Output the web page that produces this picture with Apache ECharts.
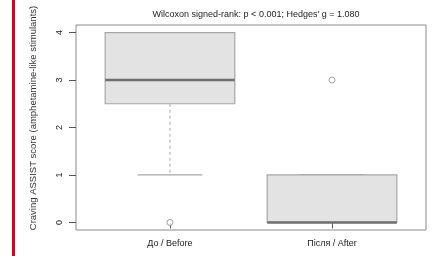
<!DOCTYPE html>
<html>
<head>
<meta charset="utf-8">
<script src="https://cdn.jsdelivr.net/npm/echarts@6/dist/echarts.min.js"></script>
<style>
  html, body { margin: 0; padding: 0; background: #fff; }
  #chart { width: 433px; height: 256px; }
</style>
</head>
<body>
<div id="chart"></div>
<script>
const categories = ["До / Before", "Після / After"];
const whiskerLow = [1, 0];
const q1 = [2.5, 0];
const median = [3, 0];
const q3 = [4, 1];
const whiskerHigh = [4, 1];
const outliers = [[1, 0], [2, 3]];
const yTicks = [0, 1, 2, 3, 4];
const title = "Wilcoxon signed-rank: p < 0.001; Hedges' g = 1.080";
const yName = "Craving ASSIST score (amphetamine-like stimulants)";

const font = "Liberation Sans, Arial, sans-serif";
const boxData = categories.map((c, i) => [i + 1, whiskerLow[i], q1[i], median[i], q3[i], whiskerHigh[i]]);

function renderBox(params, api) {
  const x = api.value(0);
  const half = api.size([0.8, 0])[0] / 2;
  const pLow = api.coord([x, api.value(1)]);
  const pQ1 = api.coord([x, api.value(2)]);
  const pMed = api.coord([x, api.value(3)]);
  const pQ3 = api.coord([x, api.value(4)]);
  const pHigh = api.coord([x, api.value(5)]);
  const cx = pMed[0];
  const grey = "#a6a6a6";
  const children = [];
  // whiskers
  children.push({ type: "line", shape: { x1: cx, y1: pQ1[1], x2: cx, y2: pLow[1] },
    style: { stroke: grey, lineWidth: 1, lineDash: [3, 3] } });
  children.push({ type: "line", shape: { x1: cx, y1: pQ3[1], x2: cx, y2: pHigh[1] },
    style: { stroke: grey, lineWidth: 1, lineDash: [3, 3] } });
  children.push({ type: "line", shape: { x1: cx - half / 2, y1: pLow[1], x2: cx + half / 2, y2: pLow[1] },
    style: { stroke: grey, lineWidth: 1.2 } });
  children.push({ type: "line", shape: { x1: cx - half / 2, y1: pHigh[1], x2: cx + half / 2, y2: pHigh[1] },
    style: { stroke: grey, lineWidth: 1.2 } });
  // box
  children.push({ type: "rect", shape: { x: cx - half, y: pQ3[1], width: half * 2, height: pQ1[1] - pQ3[1] },
    style: { fill: "#e3e3e3", stroke: grey, lineWidth: 1.2 } });
  // median
  children.push({ type: "line", shape: { x1: cx - half, y1: pMed[1], x2: cx + half, y2: pMed[1] },
    style: { stroke: "#6e6e6e", lineWidth: 2.5 } });
  return { type: "group", children: children };
}

const chart = echarts.init(document.getElementById("chart"));
chart.setOption({
  animation: false,
  backgroundColor: "#fff",
  textStyle: { fontFamily: font },
  title: {
    text: title,
    left: 251,
    textAlign: "center",
    top: 5,
    textStyle: { fontFamily: font, fontSize: 9, fontWeight: "normal", color: "#222" }
  },
  grid: { left: 76, right: 7, top: 25, bottom: 26, show: true, borderColor: "#8a8a8a", borderWidth: 1, backgroundColor: "transparent" },
  xAxis: {
    type: "value",
    min: 0.42,
    max: 2.58,
    splitLine: { show: false },
    axisLine: { show: false },
    axisTick: { show: true, length: 6, customValues: [1, 2], lineStyle: { color: "#555" } },
    axisLabel: {
      customValues: [1, 2],
      margin: 9,
      fontSize: 9,
      color: "#222",
      fontFamily: font,
      formatter: v => categories[Math.round(v) - 1]
    }
  },
  yAxis: {
    type: "value",
    min: -0.16,
    max: 4.16,
    splitLine: { show: false },
    axisLine: { show: false },
    axisTick: { show: true, length: 7, customValues: yTicks, lineStyle: { color: "#555" } },
    axisLabel: { customValues: yTicks, rotate: 90, margin: 12, fontSize: 9, color: "#222", fontFamily: font }
  },
  series: [
    {
      type: "custom",
      renderItem: renderBox,
      data: boxData,
      encode: { x: 0, y: [1, 2, 3, 4, 5] }
    },
    {
      type: "scatter",
      data: outliers,
      symbol: "circle",
      symbolSize: 6,
      z: 5,
      itemStyle: { color: "#fff", borderColor: "#888", borderWidth: 1 }
    }
  ],
  graphic: [
    { type: "rect", left: 12, top: 0, shape: { width: 3, height: 256 }, style: { fill: "#e0001b" } },
    {
      type: "text",
      x: 33,
      y: 118,
      rotation: Math.PI / 2,
      style: { text: yName, fontSize: 9.5, fontFamily: font, fill: "#333", align: "center", verticalAlign: "middle" }
    }
  ]
});
</script>
</body>
</html>
